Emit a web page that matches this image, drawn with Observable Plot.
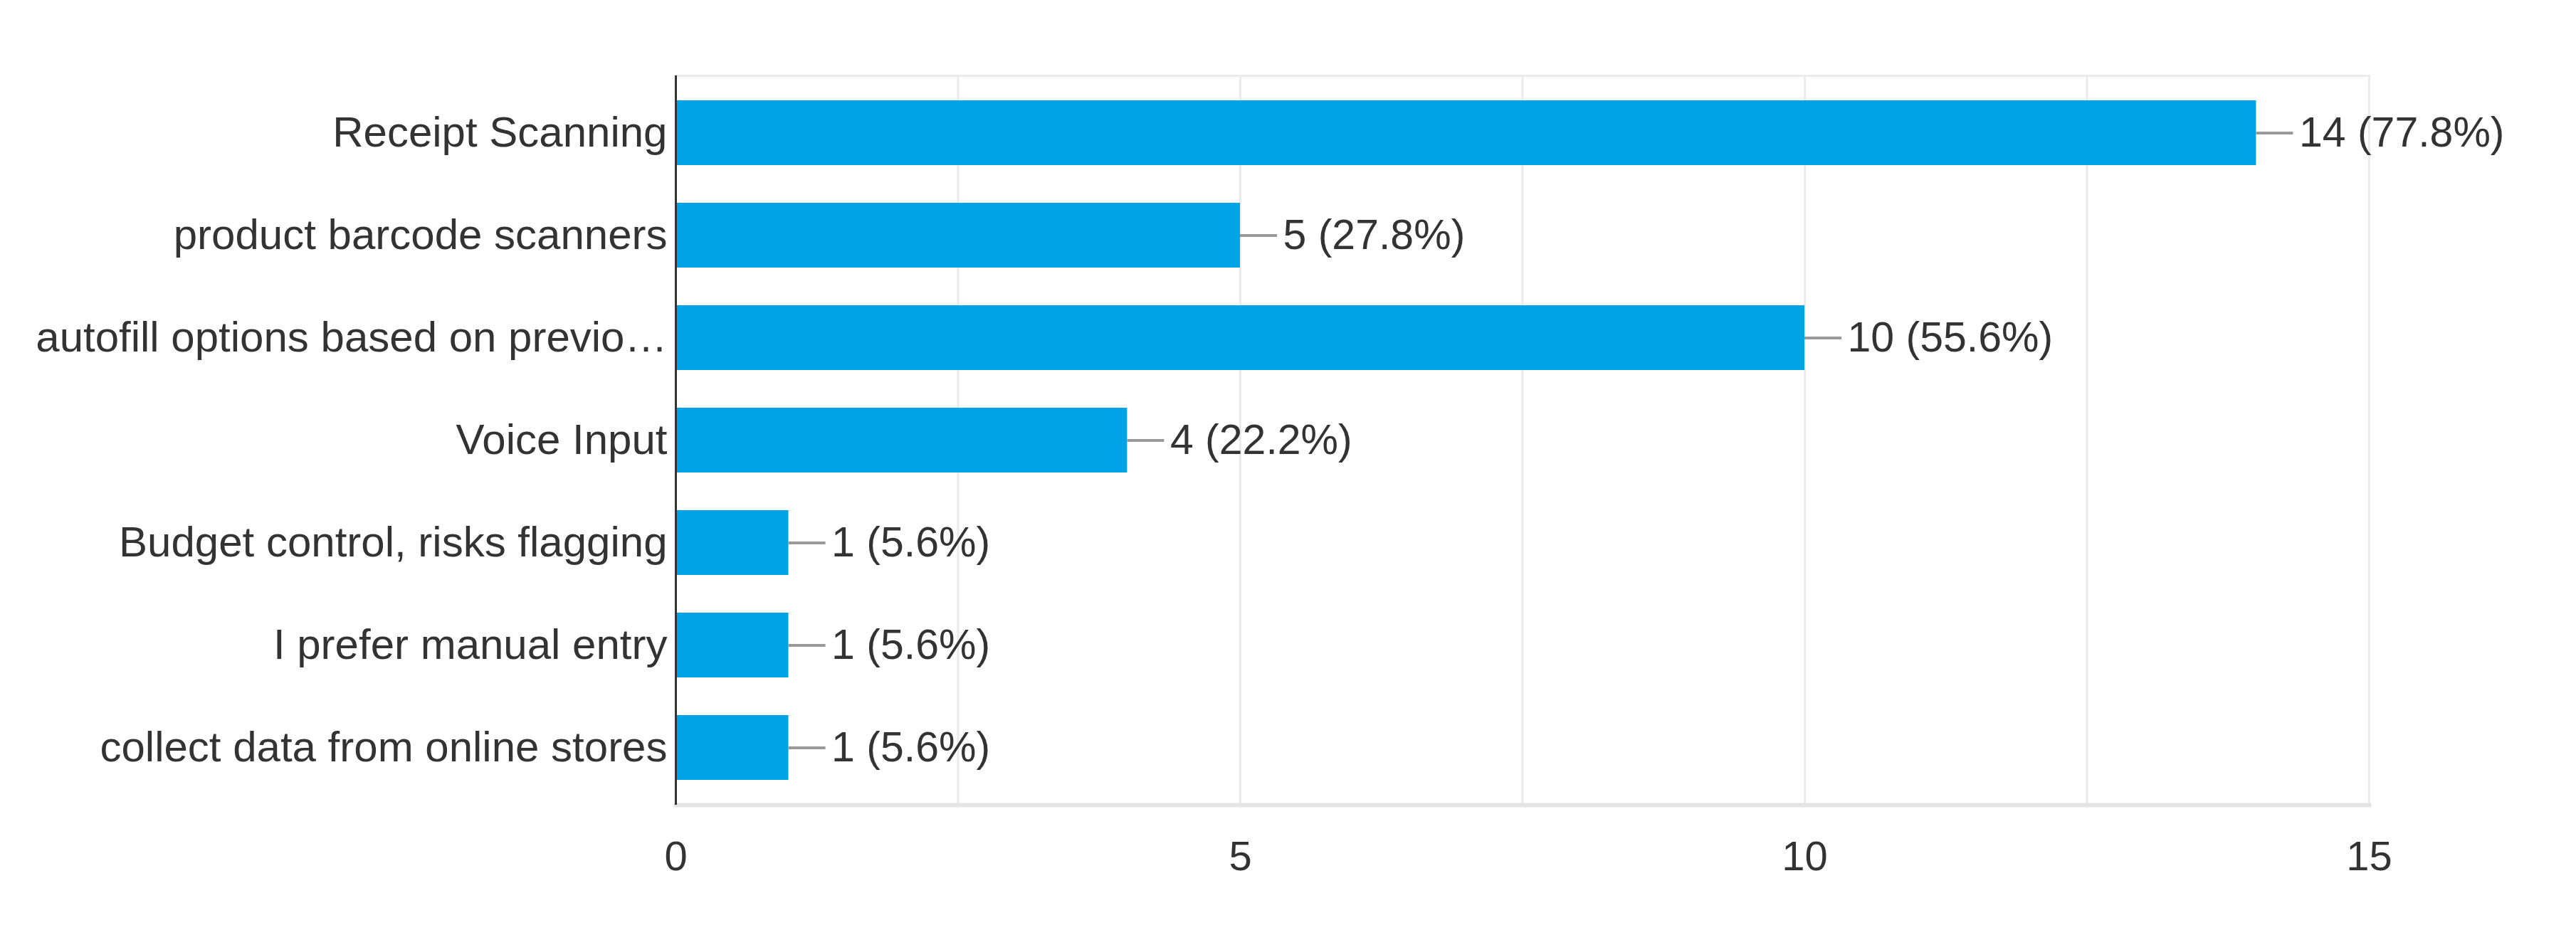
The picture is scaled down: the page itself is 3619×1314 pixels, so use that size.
<!DOCTYPE html>
<html>
<head>
<meta charset="utf-8">
<script src="https://cdn.jsdelivr.net/npm/d3@7"></script>
<script src="https://cdn.jsdelivr.net/npm/@observablehq/plot@0.6"></script>
<style>
  html, body { margin: 0; padding: 0; background: #fff; }
  #chart svg { display: block; }
  #chart svg g[aria-label="y-axis tick label"] text { font-size: 60px; }
</style>
</head>
<body>
<div id="chart"></div>
<script>
const categories = [
  "Receipt Scanning",
  "product barcode scanners",
  "autofill options based on previo…",
  "Voice Input",
  "Budget control, risks flagging",
  "I prefer manual entry",
  "collect data from online stores"
];
const counts = [14, 5, 10, 4, 1, 1, 1];
const percents = ["77.8", "27.8", "55.6", "22.2", "5.6", "5.6", "5.6"];
const xTicks = [0, 5, 10, 15];
const gridValues = [0, 2.5, 5, 7.5, 10, 12.5, 15];

const data = categories.map((c, i) => ({label: c, count: counts[i], pct: percents[i]}));

const chart = Plot.plot({
  width: 3619,
  height: 1314,
  marginLeft: 949,
  marginRight: 291,
  marginTop: 106,
  marginBottom: 183,
  style: {fontFamily: "'Liberation Sans', Arial, sans-serif", fontSize: "58px", color: "#333", background: "#fff"},
  x: {domain: [0, 15], ticks: xTicks, tickSize: 0, tickPadding: 50, label: null},
  y: {domain: categories, paddingInner: 0.366, paddingOuter: 0.218, tickSize: 0, tickPadding: 12, label: null},
  marks: [
    Plot.ruleX(gridValues, {stroke: "#ebebeb", strokeWidth: 3}),
    Plot.frame({stroke: "#ebebeb", strokeWidth: 3}),
    Plot.frame({anchor: "bottom", stroke: "#e4e4e4", strokeWidth: 6}),
    Plot.barX(data, {x: "count", y: "label", fill: "#00a3e5"}),
    Plot.ruleY(data, {y: "label", x1: "count", x2: "count", insetRight: -52, stroke: "#999", strokeWidth: 4}),
    Plot.text(data, {x: "count", y: "label", text: d => `${d.count} (${d.pct}%)`, dx: 60, textAnchor: "start", fill: "#333", fontSize: 59}),
    Plot.ruleX([0], {stroke: "#333", strokeWidth: 3})
  ]
});
document.getElementById("chart").appendChild(chart);
</script>
</body>
</html>
